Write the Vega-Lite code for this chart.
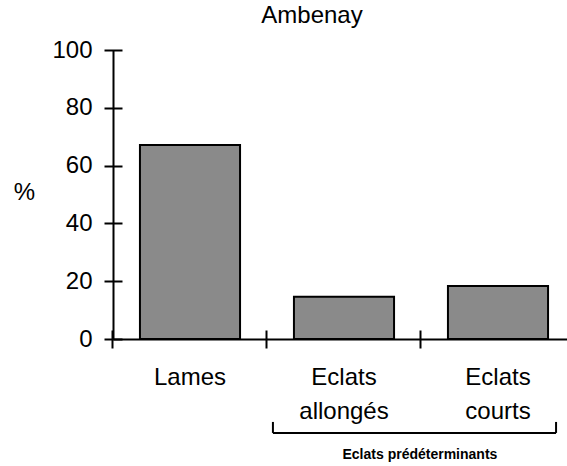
{
  "$schema": "https://vega.github.io/schema/vega-lite/v6.json",
  "width": 454,
  "height": 289,
  "autosize": {"type": "none"},
  "padding": {"left": 113, "top": 50, "right": 0, "bottom": 127},
  "background": "#ffffff",
  "title": {"text": "Ambenay", "fontSize": 24, "font": "Liberation Sans", "fontWeight": "normal", "anchor": "start", "dx": 248, "offset": 10, "color": "#000000"},
  "config": {"view": {"stroke": null}, "font": "Liberation Sans"},
  "datasets": {
    "bars": [
      {"type": "Lames", "pct": 67.1},
      {"type": "Eclats allongés", "pct": 14.6},
      {"type": "Eclats courts", "pct": 18.3}
    ],
    "group": [
      {"from": "Eclats allongés", "to": "Eclats courts", "label": "Eclats prédéterminants"}
    ]
  },
  "resolve": {"axis": {"x": "independent", "y": "independent"}},
  "layer": [
    {
      "data": {"name": "bars"},
      "mark": {"type": "bar", "fill": "#8a8a8a", "stroke": "#000000", "strokeWidth": 2},
      "encoding": {
        "x": {
          "field": "type", "type": "nominal", "sort": null,
          "scale": {"domain": ["Lames", "Eclats allongés", "Eclats courts"], "paddingInner": 0.35, "paddingOuter": 0.175, "range": [0, 462]},
          "axis": {"title": null, "orient": "bottom", "domain": true, "domainColor": "#000000", "domainWidth": 2, "ticks": false, "tickSize": 0, "labelAngle": 0, "labelFontSize": 24, "labelColor": "#000000", "labelPadding": 26, "labelLineHeight": 34, "labelBaseline": "top", "labelExpr": "split(datum.label, ' ')", "grid": false}
        },
        "y": {
          "field": "pct", "type": "quantitative",
          "scale": {"domain": [0, 100], "nice": false},
          "axis": {"title": "%", "titleAngle": 0, "titleFontSize": 24, "titleFontWeight": "normal", "titleColor": "#000000", "titleX": -89, "titleY": 142, "titleAlign": "center", "titleBaseline": "middle", "values": [0, 20, 40, 60, 80, 100], "domainColor": "#000000", "domainWidth": 2, "ticks": false, "tickSize": 0, "labelFontSize": 24, "labelPadding": 21, "labelColor": "#000000", "labelFlush": false, "grid": false}
        }
      }
    },
    {
      "data": {"name": "bars"},
      "mark": {"type": "bar", "opacity": 0},
      "encoding": {
        "x": {"field": "type", "type": "nominal", "sort": null,
          "axis": {"orient": "bottom", "offset": -9, "tickSize": 18, "tickWidth": 2, "tickColor": "#000000", "bandPosition": -0.27, "domain": false, "labels": false, "title": null, "grid": false}},
        "y": {"field": "pct", "type": "quantitative",
          "axis": {"orient": "left", "offset": -9, "tickSize": 18, "tickWidth": 2, "tickColor": "#000000", "values": [0, 20, 40, 60, 80, 100], "domain": false, "labels": false, "title": null, "grid": false}}
      }
    },
    {
      "data": {"name": "group"},
      "mark": {"type": "rule", "strokeWidth": 2, "color": "#000000"},
      "encoding": {
        "x": {"field": "from", "type": "nominal", "bandPosition": -0.21, "axis": null},
        "x2": {"field": "to", "bandPosition": 1.08},
        "y": {"datum": -32.5, "type": "quantitative", "axis": null}
      }
    },
    {
      "data": {"name": "group"},
      "mark": {"type": "rule", "strokeWidth": 2, "color": "#000000"},
      "encoding": {
        "x": {"field": "from", "type": "nominal", "bandPosition": -0.21, "axis": null},
        "y": {"datum": -32.5, "type": "quantitative", "axis": null},
        "y2": {"datum": -28.7}
      }
    },
    {
      "data": {"name": "group"},
      "mark": {"type": "rule", "strokeWidth": 2, "color": "#000000"},
      "encoding": {
        "x": {"field": "to", "type": "nominal", "bandPosition": 1.08, "axis": null},
        "y": {"datum": -32.5, "type": "quantitative", "axis": null},
        "y2": {"datum": -28.7}
      }
    },
    {
      "data": {"name": "group"},
      "mark": {"type": "text", "fontSize": 14, "fontWeight": "bold", "color": "#000000", "align": "center", "baseline": "middle"},
      "encoding": {
        "x": {"field": "to", "type": "nominal", "bandPosition": -0.28, "axis": null},
        "y": {"datum": -40, "type": "quantitative", "axis": null},
        "text": {"field": "label"}
      }
    }
  ]
}
